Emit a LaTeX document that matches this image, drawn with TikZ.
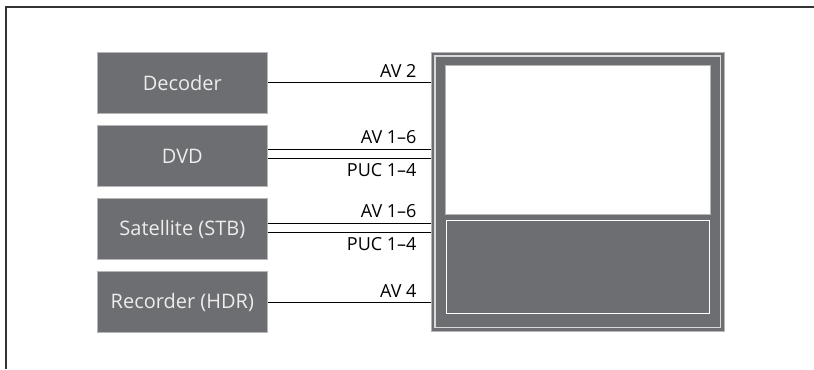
\documentclass[tikz,border=0pt]{standalone}
\usepackage{fontspec}
\setmainfont{Open Sans}
\usetikzlibrary{positioning, math, calc}

\definecolor{boxgray}{HTML}{6D6E71}
\definecolor{edgegray}{HTML}{B5B6B8}

\begin{document}
\begin{tikzpicture}[x=0.75pt, y=-0.75pt]
		\tikzmath{
			\boxW   = 127.5;  %box width (pt)
			\boxH   = 45.75;  %box height (pt)
			\boxGap = 8.6;    %distance between the boxes (pt)
			\tvW    = 219.75; %tv width (pt)
			\tvH    = 209.25; %tv height (pt)
		}
		\tikzstyle{Base} = [
			text centered,
			inner sep=0pt,
		]
		\tikzstyle{DarkBox} = [
			Base,
			fill=boxgray,
			draw=edgegray,
			line width=0.5pt,
			text=white!93!black,
			font=\fontsize{15}{18}\selectfont,
			minimum width=\boxW pt,
			minimum height=\boxH pt,
		]
		\tikzstyle{TvFrame} = [
			Base,
			fill=boxgray,
			draw=edgegray,
			line width=0.8pt,
			minimum width=\tvW pt,
			minimum height=\tvH pt,
		]
		\tikzstyle{Screen} = [
			Base,
			fill=white,
			draw=edgegray,
			line width=0.8pt,
			minimum width=198.75pt,
			minimum height=111.75pt,
		]
		\tikzstyle{Panel} = [
			Base,
			fill=boxgray,
			draw=white,
			line width=0.8pt,
			minimum width=197.25pt,
			minimum height=69.75pt,
		]
		\tikzstyle{Cable} = [
			draw=black,
			line width=0.75pt,
		]
		\tikzstyle{CableLabel} = [
			inner sep=0pt,
			font=\fontsize{13.5}{16}\selectfont,
			xshift=-10.5pt,
		]

		\useasboundingbox (0,0) rectangle (814,369);
		%%%%%%%%%%%%%%%%%%%%%%%%%%===---FRAME---===%%%%%%%%%%%%%%%%%%%%%%%%%%
		\draw [black!80, line width=1.3pt] (6,369) -- (6,7) -- (814,7);

		%%%%%%%%%%%%%%%%%%%%%%%%%%===---DEVICES---===%%%%%%%%%%%%%%%%%%%%%%%%%%
		\node (dec) [DarkBox, anchor=north west] at (97,52) {Decoder};
			\node (dvd) [DarkBox, below = \boxGap pt of dec] {DVD};
			\node (sat) [DarkBox, below = \boxGap pt of dvd] {Satellite (STB)};
			\node (hdr) [DarkBox, below = \boxGap pt of sat] {Recorder (HDR)};

		%%%%%%%%%%%%%%%%%%%%%%%%%%===---TV---===%%%%%%%%%%%%%%%%%%%%%%%%%%
		\node (tv) [TvFrame, anchor=north west] at (431,52) {};
		\draw [white!85!black, line width=0.8pt] ($(tv.north west)+(4,4)$) rectangle ($(tv.south east)+(-5,-5)$);
		\node (screen) [Screen, anchor=north west] at ($(tv.north west)+(14,13)$) {};
		\node (panel) [Panel, below = 3.75pt of screen] {};

		%%%%%%%%%%%%%%%%%%%%%%%%%%===---CABLES---===%%%%%%%%%%%%%%%%%%%%%%%%%%
		\draw [Cable] (dec.east) -- (dec.east -| tv.west)
			node [CableLabel, anchor=base east, yshift=3.75pt] {AV 2};
		\draw [Cable] ([yshift=4.9pt]dvd.east) -- ([yshift=4.9pt]dvd.east -| tv.west)
			node [CableLabel, anchor=base east, yshift=4.5pt] {AV 1–6};
		\draw [Cable] ([yshift=-1.9pt]dvd.east) -- ([yshift=-1.9pt]dvd.east -| tv.west)
			node [CableLabel, anchor=base east, yshift=-13.5pt] {PUC 1–4};
		\draw [Cable] ([yshift=4.5pt]sat.east) -- ([yshift=4.5pt]sat.east -| tv.west)
			node [CableLabel, anchor=base east, yshift=4.5pt] {AV 1–6};
		\draw [Cable] ([yshift=-2.2pt]sat.east) -- ([yshift=-2.2pt]sat.east -| tv.west)
			node [CableLabel, anchor=base east, yshift=-13.5pt] {PUC 1–4};
		\draw [Cable] (hdr.east) -- (hdr.east -| tv.west)
			node [CableLabel, anchor=base east, yshift=3.75pt] {AV 4};
\end{tikzpicture}
\end{document}
